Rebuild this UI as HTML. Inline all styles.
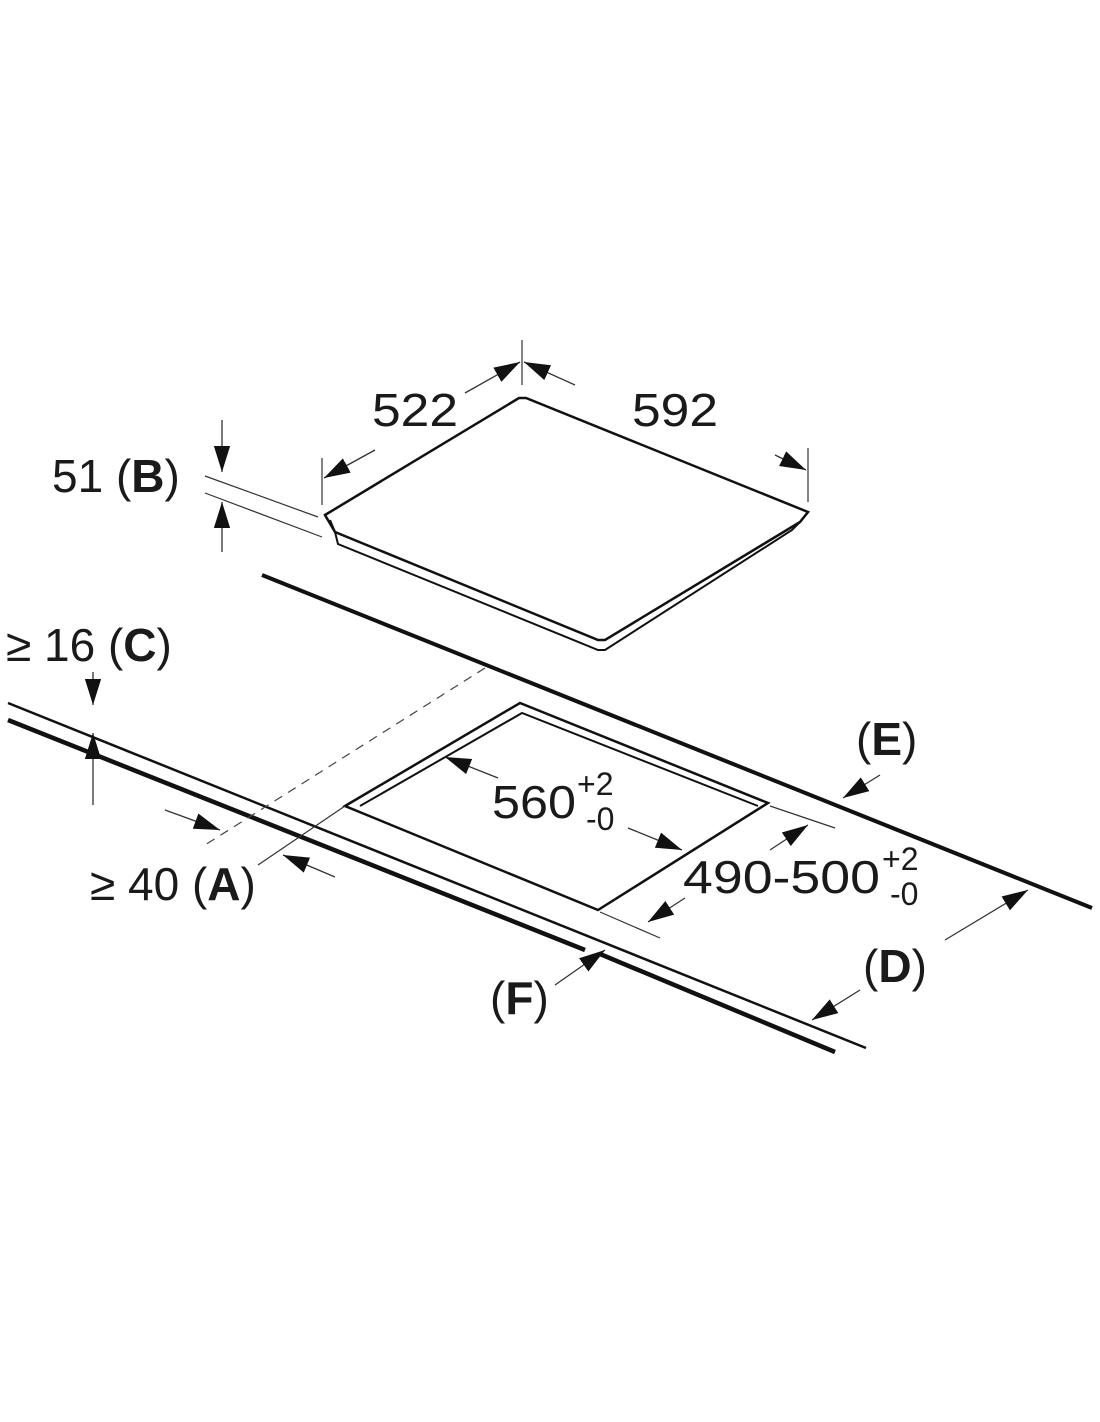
<!DOCTYPE html>
<html><head><meta charset="utf-8"><style>
html,body{margin:0;padding:0;background:#fff}
svg{display:block}
text{font-family:"Liberation Sans",sans-serif;fill:#1a1a1a}
</style></head><body>
<svg width="1100" height="1422" viewBox="0 0 1100 1422" xmlns="http://www.w3.org/2000/svg">
<defs>
<marker id="a" viewBox="0 0 16 10" refX="16" refY="5" markerWidth="26" markerHeight="17" markerUnits="userSpaceOnUse" orient="auto"><path d="M0,0 L16,5 L0,10 z" fill="#111"/></marker>
</defs>
<g fill="none" stroke="#111">
<!-- hob -->
<path d="M325,515 L519,398 L526,398 L808,512 L800,522 L605,640 L598,640 L335,532 Z" stroke-width="2.5" fill="#fff"/>
<path d="M335,532 L338,544 L598,650 L605,650 L792,530 L800,522" stroke-width="2"/>
<path d="M330,520 L335,532" stroke-width="2"/>
<!-- back line E -->
<path d="M262,575 L1092,908" stroke-width="4"/>
<!-- front lines -->
<path d="M8,703 L866,1048" stroke-width="2.5"/>
<path d="M8,720 L585,950 M600,954 L835,1052" stroke-width="4.5"/>
<!-- dashed -->
<path d="M485,668 L205,845" stroke-width="1.2" stroke-dasharray="9,7" stroke="#444"/>
<!-- cutout -->
<path d="M345,806 L520,703 L768,803 L598,910 Z" stroke-width="2.5"/>
<path d="M360,806 L522,713 L758,806" stroke-width="2"/>
<!-- extension lines -->
<g stroke-width="1.2" stroke="#333">
<path d="M522,340 L522,385 M322,458 L322,505 M808,448 L808,502"/>
<path d="M205,476 L318,517 M205,493 L322,537"/>
<path d="M258,865 L345,806"/>
<path d="M770,806 L835,828 M600,912 L660,938"/>
</g>
<!-- dimension arrows -->
<g stroke-width="1.3" stroke="#333" marker-end="url(#a)">
<path d="M375,450 L324,478"/>
<path d="M465,393 L520,362"/>
<path d="M575,385 L524,362"/>
<path d="M775,455 L806,470"/>
<path d="M222,420 L222,472"/>
<path d="M222,552 L222,502"/>
<path d="M93,672 L93,705"/>
<path d="M93,805 L93,733"/>
<path d="M165,810 L220,830"/>
<path d="M335,877 L283,855"/>
<path d="M498,778 L445,757"/>
<path d="M628,828 L682,850"/>
<path d="M770,850 L808,825"/>
<path d="M685,898 L648,922"/>
<path d="M880,775 L843,798"/>
<path d="M945,940 L1028,890"/>
<path d="M860,990 L812,1020"/>
<path d="M555,985 L605,950"/>
</g>
</g>
<!-- labels -->
<g font-size="46">
<text x="372" y="426" textLength="86" lengthAdjust="spacingAndGlyphs">522</text>
<text x="632" y="426" textLength="86" lengthAdjust="spacingAndGlyphs">592</text>
<text x="52" y="492">51 (<tspan font-weight="bold">B</tspan>)</text>
<text x="6" y="661">≥ 16 (<tspan font-weight="bold">C</tspan>)</text>
<text x="90" y="900">≥ 40 (<tspan font-weight="bold">A</tspan>)</text>
<text x="492" y="818" textLength="84" lengthAdjust="spacingAndGlyphs">560</text>
<text x="683" y="893" textLength="197" lengthAdjust="spacingAndGlyphs">490-500</text>
<text x="856" y="755">(<tspan font-weight="bold">E</tspan>)</text>
<text x="863" y="982">(<tspan font-weight="bold">D</tspan>)</text>
<text x="490" y="1014">(<tspan font-weight="bold">F</tspan>)</text>
</g>
<g font-size="32">
<text x="577" y="795">+2</text>
<text x="586" y="830">-0</text>
<text x="882" y="870">+2</text>
<text x="890" y="905">-0</text>
</g>
</svg>
</body></html>
